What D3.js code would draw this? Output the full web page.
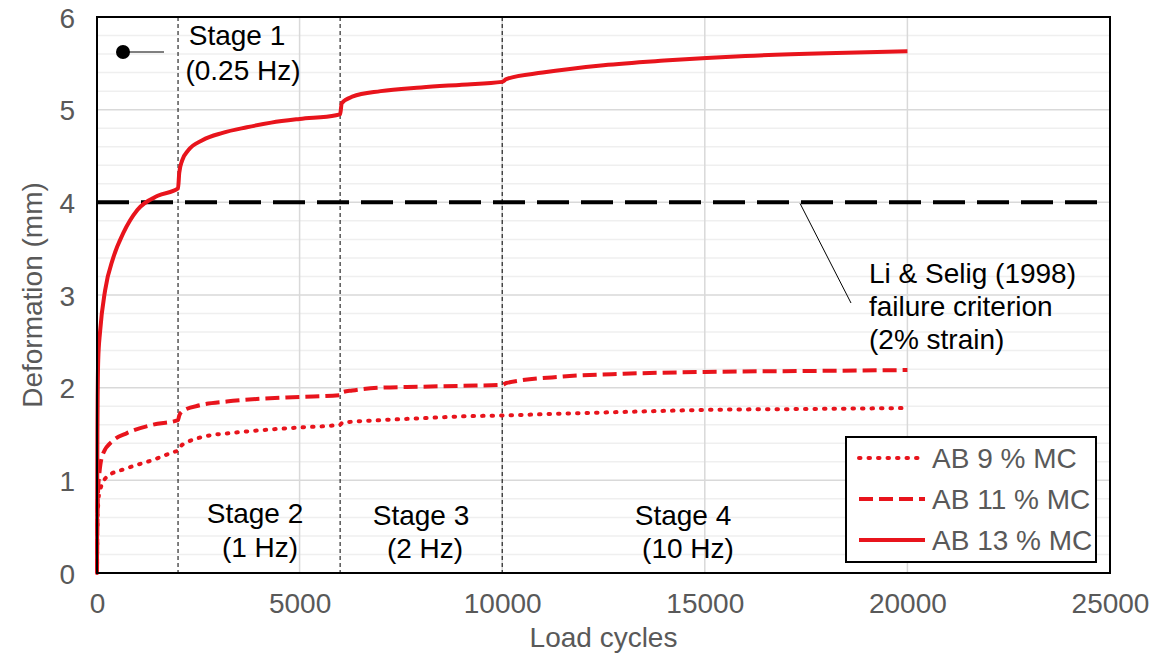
<!DOCTYPE html>
<html><head><meta charset="utf-8">
<script src="https://cdn.jsdelivr.net/npm/d3@7"></script>
<style>
html,body{margin:0;padding:0;background:#fff;}
svg text{font-family:"Liberation Sans",Arial,sans-serif;}
</style></head>
<body><svg id="c" width="1156" height="657"></svg>
<script>
// ---- data ----
const xTicks = [0, 5000, 10000, 15000, 20000, 25000];
const yTicks = [0, 1, 2, 3, 4, 5, 6];
const stageBounds = [2000, 6000, 10000];
const failureCriterion = 4;

const cycles9 = [0, 10, 30, 60, 250, 740, 1380, 1925, 2000, 2050, 2220, 2620, 3300, 4020, 5000, 6000, 6050, 7000, 8000, 9000, 10000, 11500, 13150, 15000, 17500, 20000];
const def9    = [0, 0.5, 0.75, 0.87, 1.04, 1.13, 1.22, 1.31, 1.32, 1.36, 1.41, 1.47, 1.51, 1.54, 1.57, 1.6, 1.62, 1.65, 1.67, 1.69, 1.7, 1.72, 1.74, 1.76, 1.77, 1.78];

const cycles11 = [0, 10, 30, 60, 150, 400, 740, 1380, 2000, 2030, 2120, 2540, 3200, 4020, 5000, 6000, 6050, 6300, 7000, 8000, 9000, 10000, 10100, 11500, 13000, 15000, 17500, 20000];
const def11    = [0, 0.6, 0.92, 1.08, 1.29, 1.43, 1.51, 1.6, 1.65, 1.7, 1.75, 1.81, 1.85, 1.88, 1.9, 1.92, 1.95, 1.97, 2.0, 2.01, 2.02, 2.03, 2.05, 2.12, 2.15, 2.17, 2.18, 2.19];

const cycles13 = [0, 10, 30, 75, 200, 400, 650, 1000, 1500, 2000, 2030, 2100, 2250, 2600, 3100, 3700, 4300, 5000, 5900, 6000, 6040, 6300, 7000, 8000, 9000, 10000, 10100, 11000, 12500, 14000, 16000, 18000, 20000];
const def13    = [0, 1.5, 2.3, 2.6, 3.05, 3.4, 3.67, 3.92, 4.07, 4.15, 4.32, 4.45, 4.56, 4.67, 4.75, 4.81, 4.86, 4.9, 4.94, 4.95, 5.07, 5.14, 5.2, 5.24, 5.27, 5.3, 5.33, 5.4, 5.48, 5.53, 5.58, 5.61, 5.63];

const seriesNames = ["AB 9 % MC", "AB 11 % MC", "AB 13 % MC"];
const stageLabels = [["Stage 1", "(0.25 Hz)"], ["Stage 2", "(1 Hz)"], ["Stage 3", "(2 Hz)"], ["Stage 4", "(10 Hz)"]];
const criterionLabel = ["Li & Selig (1998)", "failure criterion", "(2% strain)"];

// ---- chart ----
const svg = d3.select("#c");
const L = 97, R = 1110, T = 17, B = 573;
const x = d3.scaleLinear().domain([0, 25000]).range([L, R]);
const y = d3.scaleLinear().domain([0, 6]).range([B, T]);
const red = "#e8141c";
const gray = "#595959";

// minor gridlines
const minor = d3.range(0.2, 6, 0.2).filter(v => Math.abs(v - Math.round(v)) > 1e-6);
svg.append("g").selectAll("line").data(minor).join("line")
  .attr("x1", L).attr("x2", R).attr("y1", d => y(d)).attr("y2", d => y(d))
  .attr("stroke", "#efefef").attr("stroke-width", 1.5);
// major gridlines
svg.append("g").selectAll("line").data(yTicks.slice(1, -1)).join("line")
  .attr("x1", L).attr("x2", R).attr("y1", d => y(d)).attr("y2", d => y(d))
  .attr("stroke", "#d9d9d9").attr("stroke-width", 1.5);
svg.append("g").selectAll("line").data(xTicks.slice(1, -1)).join("line")
  .attr("x1", d => x(d)).attr("x2", d => x(d)).attr("y1", T).attr("y2", B)
  .attr("stroke", "#d9d9d9").attr("stroke-width", 1.5);

// stage boundaries
svg.append("g").selectAll("line").data(stageBounds).join("line")
  .attr("x1", d => x(d)).attr("x2", d => x(d)).attr("y1", T).attr("y2", B)
  .attr("stroke", "#000").attr("stroke-width", 1).attr("stroke-dasharray", "4,3");

// axes
const xAxis = d3.axisBottom(x).tickValues(xTicks).tickSize(0).tickPadding(34).tickFormat(d3.format("d"));
const gx = svg.append("g").attr("transform", `translate(0,${B})`).call(xAxis);
gx.select(".domain").remove();
gx.selectAll("text").attr("fill", gray).style("font-size", "28px").attr("dy", "0.2em");

const yAxis = d3.axisLeft(y).tickValues(yTicks).tickSize(0).tickPadding(22).tickFormat(d3.format("d"));
const gy = svg.append("g").attr("transform", `translate(${L},0)`).call(yAxis);
gy.select(".domain").remove();
gy.selectAll("text").attr("fill", gray).style("font-size", "28px").attr("dy", "0.36em");

// failure criterion line
svg.append("line").attr("x1", L).attr("x2", R)
  .attr("y1", y(failureCriterion)).attr("y2", y(failureCriterion))
  .attr("stroke", "#000").attr("stroke-width", 4).attr("stroke-dasharray", "32,12");

// series
const line = d3.line().x(d => x(d[0])).y(d => y(d[1])).curve(d3.curveMonotoneX);
const series = [
  { name: seriesNames[0], pts: d3.zip(cycles9, def9), dash: "1.5,8", cap: "round", w: 4 },
  { name: seriesNames[1], pts: d3.zip(cycles11, def11), dash: "14,6", cap: "butt", w: 4 },
  { name: seriesNames[2], pts: d3.zip(cycles13, def13), dash: null, cap: "butt", w: 4 }
];
series.forEach(s => {
  svg.append("path").attr("d", line(s.pts)).attr("fill", "none")
    .attr("stroke", red).attr("stroke-width", s.w).attr("stroke-linecap", s.cap)
    .attr("stroke-dasharray", s.dash).attr("stroke-linejoin", "round");
});

// plot frame
svg.append("rect").attr("x", L).attr("y", T).attr("width", R - L).attr("height", B - T)
  .attr("fill", "none").attr("stroke", "#000").attr("stroke-width", 2);

// axis titles
svg.append("text").attr("x", (L + R) / 2).attr("y", 647).attr("text-anchor", "middle")
  .attr("fill", gray).style("font-size", "28px").text("Load cycles");
svg.append("text").attr("transform", `translate(42,${(T + B) / 2}) rotate(-90)`)
  .attr("text-anchor", "middle").attr("fill", gray).style("font-size", "28px").text("Deformation (mm)");

// stage labels
const stagePos = [[237, 45, 243, 80], [255, 523, 260, 557], [421, 525, 425, 558], [683, 525, 688, 558]];
stageLabels.forEach((s, i) => {
  const p = stagePos[i];
  svg.append("text").attr("x", p[0]).attr("y", p[1]).attr("text-anchor", "middle")
    .attr("fill", "#000").style("font-size", "28px").text(s[0]);
  svg.append("text").attr("x", p[2]).attr("y", p[3]).attr("text-anchor", "middle")
    .attr("fill", "#000").style("font-size", "28px").text(s[1]);
});

// stage 1 marker
svg.append("line").attr("x1", 123).attr("x2", 164).attr("y1", 52).attr("y2", 52)
  .attr("stroke", "#000").attr("stroke-width", 1);
svg.append("circle").attr("cx", 123).attr("cy", 52).attr("r", 7).attr("fill", "#000");

// criterion annotation
svg.append("line").attr("x1", 800).attr("y1", y(failureCriterion) + 1).attr("x2", 851).attr("y2", 303)
  .attr("stroke", "#000").attr("stroke-width", 1);
criterionLabel.forEach((t, i) => {
  svg.append("text").attr("x", 869).attr("y", 283 + i * 33).attr("fill", "#000")
    .style("font-size", "28px").text(t);
});

// legend
svg.append("rect").attr("x", 846).attr("y", 437).attr("width", 250).attr("height", 125)
  .attr("fill", "#fff").attr("stroke", "#000").attr("stroke-width", 2);
series.forEach((s, i) => {
  const yy = 458 + i * 41;
  svg.append("line").attr("x1", 859).attr("x2", 925).attr("y1", yy).attr("y2", yy)
    .attr("stroke", red).attr("stroke-width", s.w).attr("stroke-linecap", s.cap)
    .attr("stroke-dasharray", s.dash);
  svg.append("text").attr("x", 932).attr("y", yy + 10).attr("fill", gray)
    .style("font-size", "28px").text(s.name);
});
</script></body></html>
